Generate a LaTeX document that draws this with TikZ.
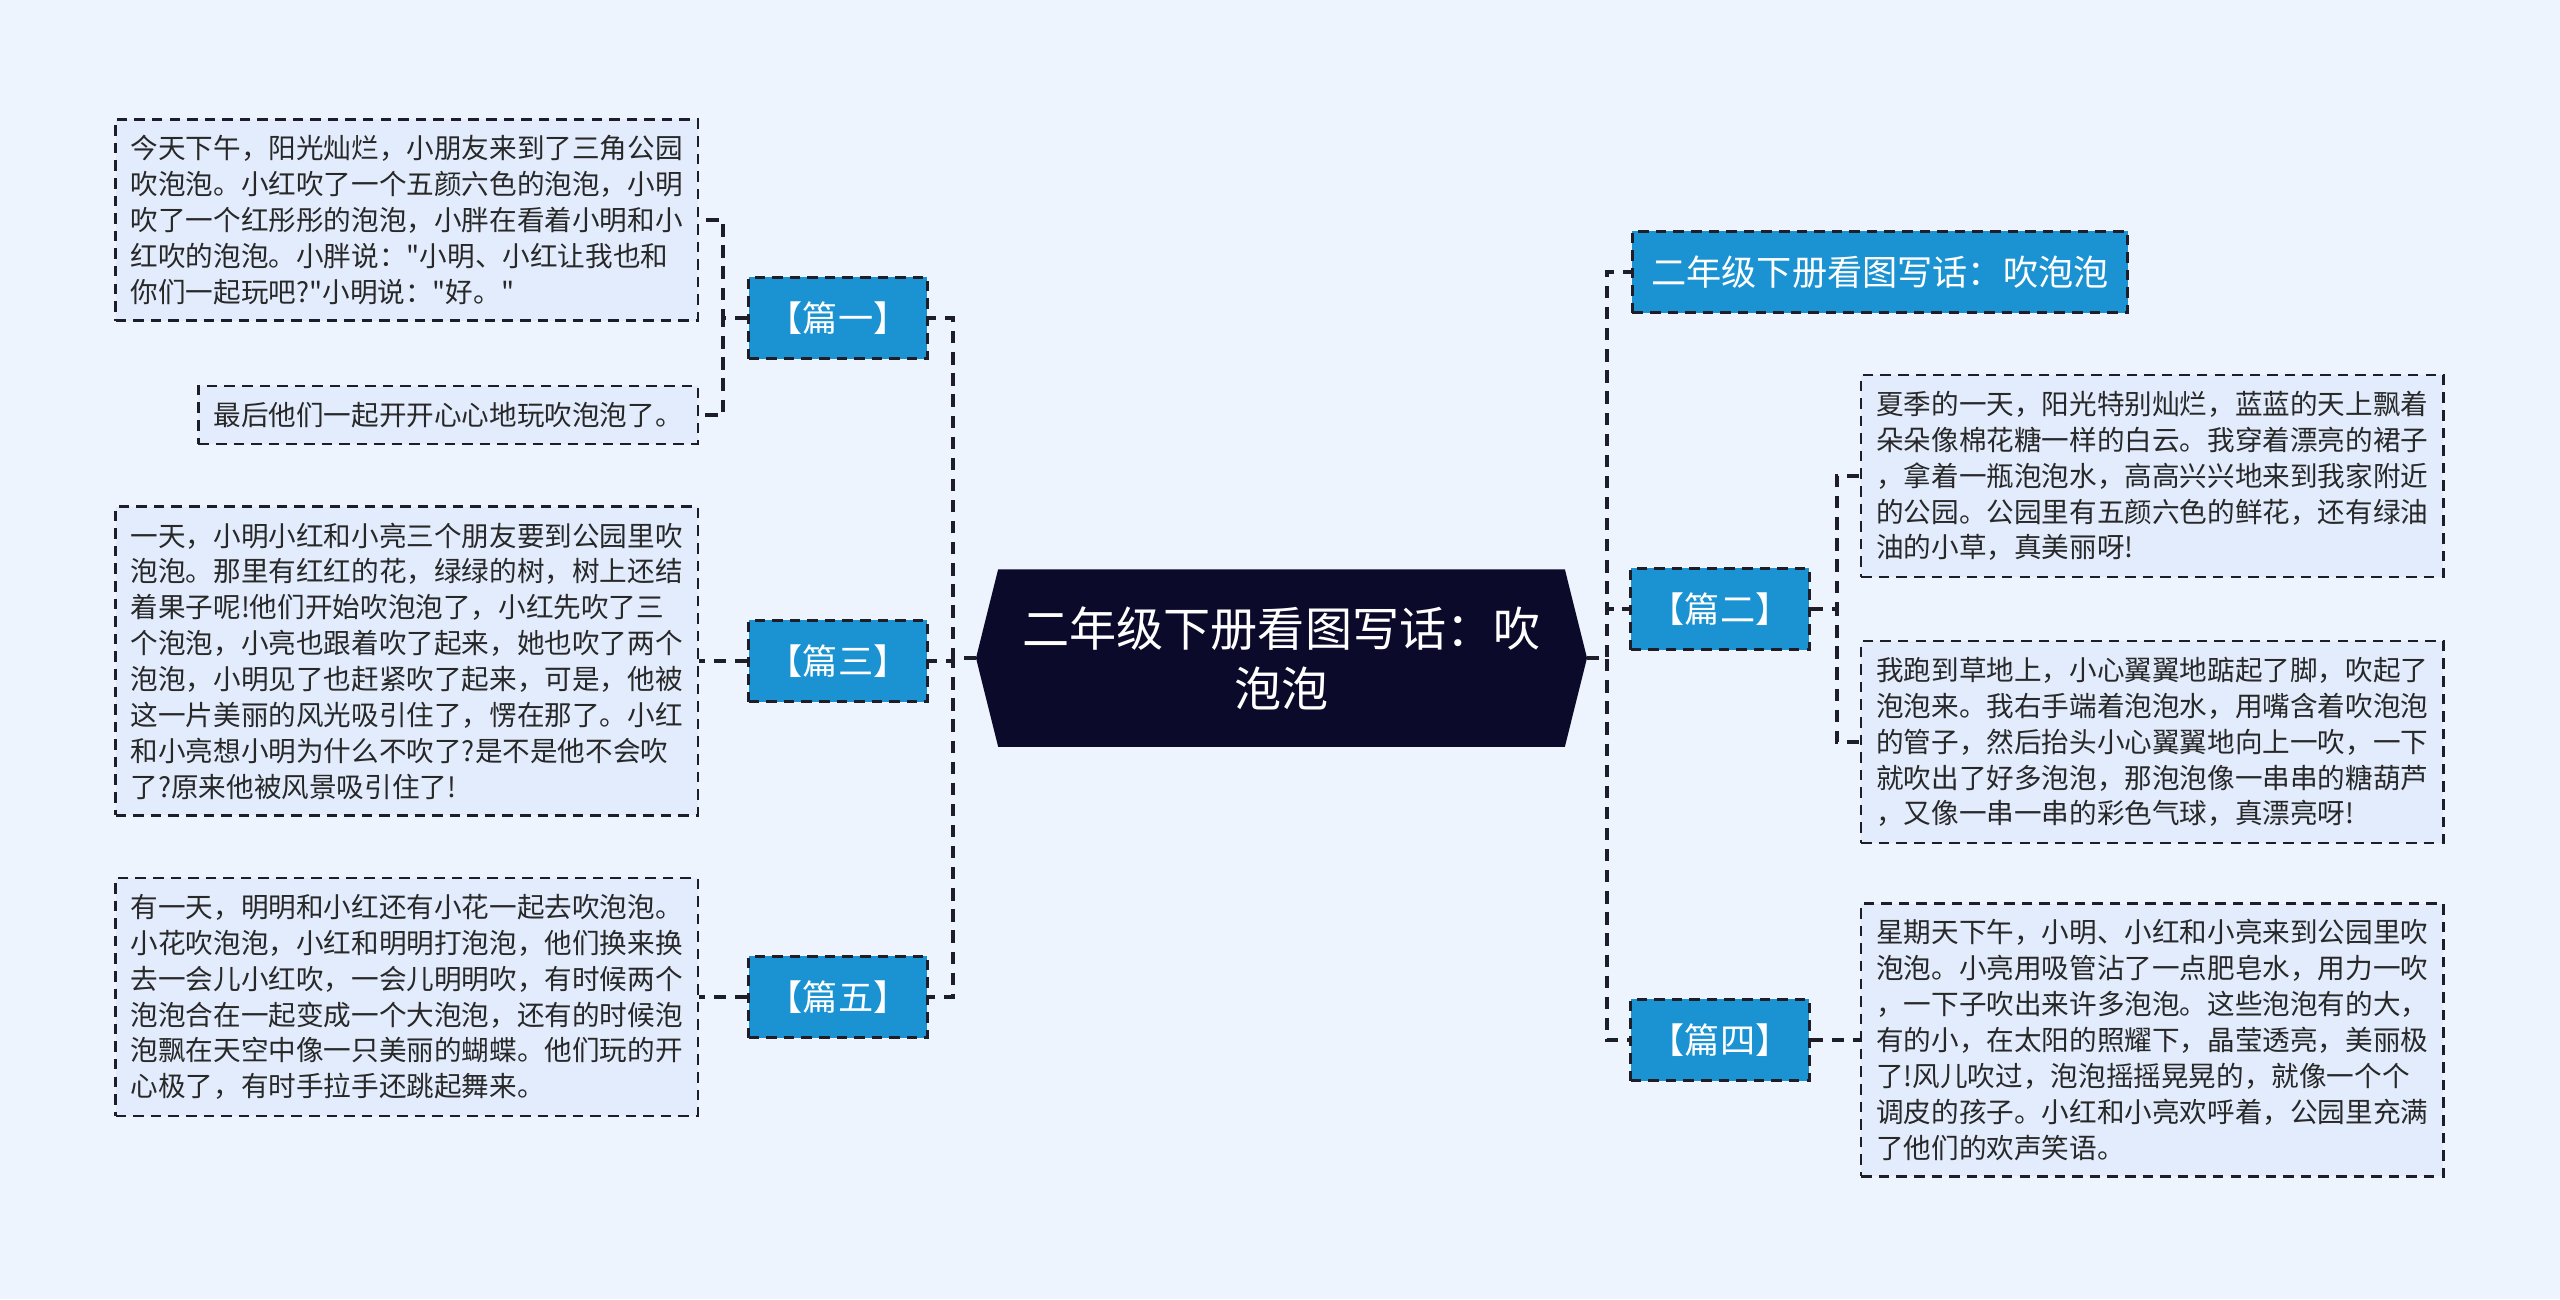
\documentclass[tikz,border=0pt]{standalone}
\usepackage{fontspec}
\setmainfont{Noto Sans CJK SC}[Ligatures=TeXOff]
\usepackage{tikz}
\usetikzlibrary{backgrounds}
\definecolor{PageBg}{RGB}{238,244,253}
\definecolor{RootFill}{RGB}{12,10,42}
\definecolor{TopicBlue}{RGB}{27,146,209}
\definecolor{LeafFill}{RGB}{226,236,252}
\definecolor{LineDark}{RGB}{30,30,40}
\definecolor{TextDark}{RGB}{40,40,40}

\begin{document}
\begin{tikzpicture}[x=0.01cm,y=-0.01cm,
        root/.style={text=white,font=\fontsize{13.4pt}{17pt}\selectfont,
                     align=center,inner sep=0pt,
                     minimum width=5.65cm,minimum height=1.76cm},
        topic/.style={draw=LineDark,fill=TopicBlue,line width=0.8pt,
                      dash pattern=on 3pt off 2pt,text=white,
                      font=\fontsize{10pt}{12pt}\selectfont,
                      inner xsep=0.19cm,inner ysep=0pt,minimum height=0.81cm},
        leaf/.style={draw=LineDark,fill=LeafFill,line width=0.7pt,
                     dash pattern=on 3pt off 2pt,text=TextDark,
                     font=\fontsize{7.85pt}{10.2pt}\selectfont,
                     align=left,inner xsep=0.15cm,inner ysep=0.16cm},
        link/.style={draw=LineDark,line width=1pt,dash pattern=on 3.5pt off 2.5pt}
      ]
        \begin{scope}[on background layer]
          \fill[PageBg] (0,0) rectangle (2560,1299);
        \end{scope}
        \node[root] (R) at (1281.5,658) {二年级下册看图写话：吹\\泡泡};
        \coordinate (RL) at (976,658);
        \coordinate (RR) at (1587,658);
        \begin{scope}[on background layer]
          \fill[RootFill] (R.north west) -- (R.north east) -- (RR) -- (R.south east)
            -- (R.south west) -- (RL) -- cycle;
        \end{scope}
        \node[topic] (P1) at (838,318) {【篇一】};
        \node[topic] (P3) at (838,661) {【篇三】};
        \node[topic] (P5) at (838,997) {【篇五】};
        \node[topic,anchor=west] (T) at (1631,272) {二年级下册看图写话：吹泡泡};
        \node[topic] (P2) at (1720,609) {【篇二】};
        \node[topic] (P4) at (1720,1040) {【篇四】};
        \node[leaf,anchor=east] (L1) at (699,220) {今天下午，阳光灿烂，小朋友来到了三角公园\\吹泡泡。小红吹了一个五颜六色的泡泡，小明\\吹了一个红彤彤的泡泡，小胖在看着小明和小\\红吹的泡泡。小胖说："小明、小红让我也和\\你们一起玩吧?"小明说："好。"};
        \node[leaf,anchor=east] (L2) at (699,415) {最后他们一起开开心心地玩吹泡泡了。};
        \node[leaf,anchor=east] (L3) at (699,661) {一天，小明小红和小亮三个朋友要到公园里吹\\泡泡。那里有红红的花，绿绿的树，树上还结\\着果子呢!他们开始吹泡泡了，小红先吹了三\\个泡泡，小亮也跟着吹了起来，她也吹了两个\\泡泡，小明见了也赶紧吹了起来，可是，他被\\这一片美丽的风光吸引住了，愣在那了。小红\\和小亮想小明为什么不吹了?是不是他不会吹\\了?原来他被风景吸引住了!};
        \node[leaf,anchor=east] (L5) at (699,997) {有一天，明明和小红还有小花一起去吹泡泡。\\小花吹泡泡，小红和明明打泡泡，他们换来换\\去一会儿小红吹，一会儿明明吹，有时候两个\\泡泡合在一起变成一个大泡泡，还有的时候泡\\泡飘在天空中像一只美丽的蝴蝶。他们玩的开\\心极了，有时手拉手还跳起舞来。};
        \node[leaf,anchor=west] (R1) at (1860,476) {夏季的一天，阳光特别灿烂，蓝蓝的天上飘着\\朵朵像棉花糖一样的白云。我穿着漂亮的裙子\\，拿着一瓶泡泡水，高高兴兴地来到我家附近\\的公园。公园里有五颜六色的鲜花，还有绿油\\油的小草，真美丽呀!};
        \node[leaf,anchor=west] (R2) at (1860,742) {我跑到草地上，小心翼翼地踮起了脚，吹起了\\泡泡来。我右手端着泡泡水，用嘴含着吹泡泡\\的管子，然后抬头小心翼翼地向上一吹，一下\\就吹出了好多泡泡，那泡泡像一串串的糖葫芦\\，又像一串一串的彩色气球，真漂亮呀!};
        \node[leaf,anchor=west] (R4) at (1860,1040) {星期天下午，小明、小红和小亮来到公园里吹\\泡泡。小亮用吸管沾了一点肥皂水，用力一吹\\，一下子吹出来许多泡泡。这些泡泡有的大，\\有的小，在太阳的照耀下，晶莹透亮，美丽极\\了!风儿吹过，泡泡摇摇晃晃的，就像一个个\\调皮的孩子。小红和小亮欢呼着，公园里充满\\了他们的欢声笑语。};
        \draw[link] (RL) -- ++(-23,0) |- (P1.east);
        \draw[link] (RL) -- ++(-23,0) |- (P3.east);
        \draw[link] (RL) -- ++(-23,0) |- (P5.east);
        \draw[link] (RR) -- ++(20,0) |- (T.west);
        \draw[link] (RR) -- ++(20,0) |- (P2.west);
        \draw[link] (RR) -- ++(20,0) |- (P4.west);
        \draw[link] (P1.west) -- ++(-24,0) |- (L1.east);
        \draw[link] (P1.west) -- ++(-24,0) |- (L2.east);
        \draw[link] (P3.west) -- (L3.east);
        \draw[link] (P5.west) -- (L5.east);
        \draw[link] (P2.east) -- ++(26,0) |- (R1.west);
        \draw[link] (P2.east) -- ++(26,0) |- (R2.west);
        \draw[link] (P4.east) -- (R4.west);
      \end{tikzpicture}
\end{document}
